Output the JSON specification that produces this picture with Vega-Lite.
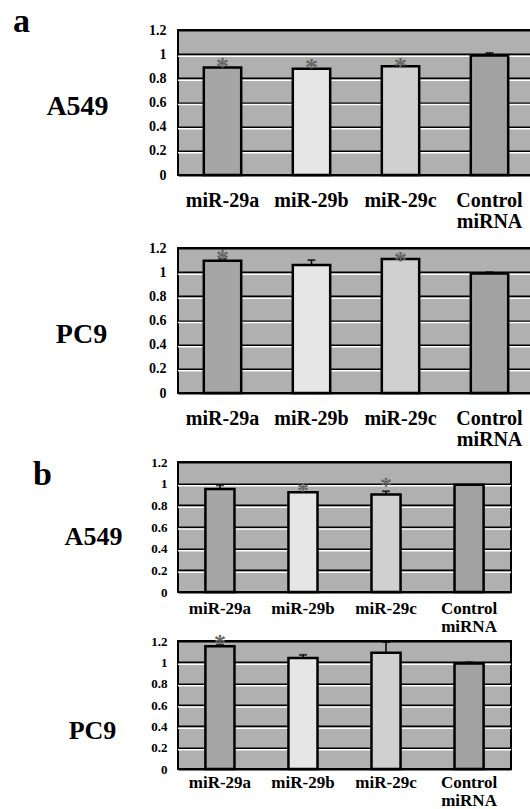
{
  "$schema": "https://vega.github.io/schema/vega-lite/v6.json",
  "background": "white",
  "padding": {"left": 12, "top": 4, "right": 0, "bottom": 0},
  "spacing": -6,
  "config": {
    "view": {"fill": "#b0b0b0", "stroke": "black", "strokeWidth": 2},
    "axis": {"labelFont": "Liberation Serif", "labelFontWeight": "bold", "labelColor": "black", "titleFont": "Liberation Serif", "titleFontWeight": "bold", "titleColor": "black", "ticks": false, "domain": false, "labelOverlap": false},
    "title": {"font": "Liberation Serif", "fontWeight": "bold", "color": "black", "anchor": "start", "frame": "group"}
  },
  "datasets": {
    "bars": [
      {"panel": "aA549", "cond": "miR-29a", "value": 0.89, "err": null, "star": 0.95},
      {"panel": "aA549", "cond": "miR-29b", "value": 0.88, "err": null, "star": 0.94},
      {"panel": "aA549", "cond": "miR-29c", "value": 0.90, "err": null, "star": 0.95},
      {"panel": "aA549", "cond": "Control miRNA", "value": 0.99, "err": 1.01, "star": null},
      {"panel": "aPC9", "cond": "miR-29a", "value": 1.095, "err": 1.11, "star": 1.17},
      {"panel": "aPC9", "cond": "miR-29b", "value": 1.06, "err": 1.10, "star": null},
      {"panel": "aPC9", "cond": "miR-29c", "value": 1.11, "err": 1.12, "star": 1.15},
      {"panel": "aPC9", "cond": "Control miRNA", "value": 0.99, "err": 1.0, "star": null},
      {"panel": "bA549", "cond": "miR-29a", "value": 0.95, "err": 0.985, "star": null},
      {"panel": "bA549", "cond": "miR-29b", "value": 0.92, "err": null, "star": 0.99},
      {"panel": "bA549", "cond": "miR-29c", "value": 0.90, "err": 0.93, "star": 1.03},
      {"panel": "bA549", "cond": "Control miRNA", "value": 0.99, "err": null, "star": null},
      {"panel": "bPC9", "cond": "miR-29a", "value": 1.15, "err": 1.165, "star": 1.24},
      {"panel": "bPC9", "cond": "miR-29b", "value": 1.04, "err": 1.07, "star": null},
      {"panel": "bPC9", "cond": "miR-29c", "value": 1.09, "err": 1.19, "star": null},
      {"panel": "bPC9", "cond": "Control miRNA", "value": 0.99, "err": 1.0, "star": null}
    ],
    "grid": [{"v": 0.2}, {"v": 0.4}, {"v": 0.6}, {"v": 0.8}, {"v": 1.0}]
  },
  "vconcat": [
    {
      "width": 356, "height": 145,
      "title": {"text": "a", "fontSize": 34, "dx": -165, "offset": -16},
      "layer": [
        {"data": {"name": "grid"}, "mark": {"type": "rule", "color": "white", "strokeWidth": 1.5, "yOffset": 2},
         "encoding": {"y": {"field": "v", "type": "quantitative", "scale": {"domain": [0, 1.2], "nice": false},
           "axis": {"values": [0, 0.2, 0.4, 0.6, 0.8, 1, 1.2], "tickCount": 7, "format": "~g", "grid": true, "gridColor": "black", "gridWidth": 2, "labelOverlap": false, "labelFontSize": 14, "labelPadding": 12, "title": "A549", "titleAngle": 0, "titleX": -101, "titleY": 76, "titleAlign": "center", "titleBaseline": "middle", "titleFontSize": 28}}}},
        {"data": {"name": "bars"}, "transform": [{"filter": "datum.panel == 'aA549'"}],
         "mark": {"type": "bar", "stroke": "black", "strokeWidth": 2.5},
         "encoding": {
           "x": {"field": "cond", "type": "nominal", "sort": ["miR-29a", "miR-29b", "miR-29c", "Control miRNA"], "scale": {"paddingInner": 0.58, "paddingOuter": 0.29},
             "axis": {"title": " ", "titleFontSize": 1, "titlePadding": 13, "labelAngle": 0, "labelFontSize": 20, "labelPadding": 25, "labelBaseline": "middle", "labelLineHeight": 21, "labelExpr": "split(datum.label, ' ')"}},
           "y": {"field": "value", "type": "quantitative", "scale": {"domain": [0, 1.2], "nice": false},
             "axis": {"values": [0, 0.2, 0.4, 0.6, 0.8, 1, 1.2], "tickCount": 7, "format": "~g", "grid": true, "gridColor": "black", "gridWidth": 2, "labelOverlap": false, "labelFontSize": 14, "labelPadding": 12, "title": "A549", "titleAngle": 0, "titleX": -101, "titleY": 76, "titleAlign": "center", "titleBaseline": "middle", "titleFontSize": 28}},
           "color": {"field": "cond", "type": "nominal", "scale": {"domain": ["miR-29a", "miR-29b", "miR-29c", "Control miRNA"], "range": ["#a6a6a6", "#e6e6e6", "#d0d0d0", "#a2a2a2"]}, "legend": null}
         }},
        {"data": {"name": "bars"}, "transform": [{"filter": "datum.panel == 'aA549' && datum.err != null"}],
         "mark": {"type": "rule", "color": "black", "strokeWidth": 1.5},
         "encoding": {"x": {"field": "cond", "type": "nominal", "sort": ["miR-29a", "miR-29b", "miR-29c", "Control miRNA"]}, "y": {"field": "value", "type": "quantitative"}, "y2": {"field": "err"}}},
        {"data": {"name": "bars"}, "transform": [{"filter": "datum.panel == 'aA549' && datum.err != null"}],
         "mark": {"type": "tick", "color": "black", "thickness": 2, "size": 8, "orient": "horizontal"},
         "encoding": {"x": {"field": "cond", "type": "nominal", "sort": ["miR-29a", "miR-29b", "miR-29c", "Control miRNA"]}, "y": {"field": "err", "type": "quantitative"}}},
        {"data": {"name": "bars"}, "transform": [{"filter": "datum.panel == 'aA549' && datum.star != null"}],
         "mark": {"type": "text", "text": "*", "font": "Liberation Serif", "fontWeight": "bold", "fontSize": 26, "color": "#666666", "baseline": "middle", "dy": 7},
         "encoding": {"x": {"field": "cond", "type": "nominal", "sort": ["miR-29a", "miR-29b", "miR-29c", "Control miRNA"]}, "y": {"field": "star", "type": "quantitative"}}}
      ]
    },
    {
      "width": 356, "height": 145,
      "layer": [
        {"data": {"name": "grid"}, "mark": {"type": "rule", "color": "white", "strokeWidth": 1.5, "yOffset": 2},
         "encoding": {"y": {"field": "v", "type": "quantitative", "scale": {"domain": [0, 1.2], "nice": false},
           "axis": {"values": [0, 0.2, 0.4, 0.6, 0.8, 1, 1.2], "tickCount": 7, "format": "~g", "grid": true, "gridColor": "black", "gridWidth": 2, "labelOverlap": false, "labelFontSize": 14, "labelPadding": 12, "title": "PC9", "titleAngle": 0, "titleX": -97, "titleY": 86, "titleAlign": "center", "titleBaseline": "middle", "titleFontSize": 28}}}},
        {"data": {"name": "bars"}, "transform": [{"filter": "datum.panel == 'aPC9'"}],
         "mark": {"type": "bar", "stroke": "black", "strokeWidth": 2.5},
         "encoding": {
           "x": {"field": "cond", "type": "nominal", "sort": ["miR-29a", "miR-29b", "miR-29c", "Control miRNA"], "scale": {"paddingInner": 0.58, "paddingOuter": 0.29},
             "axis": {"title": " ", "titleFontSize": 1, "titlePadding": 10, "labelAngle": 0, "labelFontSize": 20, "labelPadding": 25, "labelBaseline": "middle", "labelLineHeight": 21, "labelExpr": "split(datum.label, ' ')"}},
           "y": {"field": "value", "type": "quantitative", "scale": {"domain": [0, 1.2], "nice": false},
             "axis": {"values": [0, 0.2, 0.4, 0.6, 0.8, 1, 1.2], "tickCount": 7, "format": "~g", "grid": true, "gridColor": "black", "gridWidth": 2, "labelOverlap": false, "labelFontSize": 14, "labelPadding": 12, "title": "PC9", "titleAngle": 0, "titleX": -97, "titleY": 86, "titleAlign": "center", "titleBaseline": "middle", "titleFontSize": 28}},
           "color": {"field": "cond", "type": "nominal", "scale": {"domain": ["miR-29a", "miR-29b", "miR-29c", "Control miRNA"], "range": ["#a6a6a6", "#e6e6e6", "#d0d0d0", "#a2a2a2"]}, "legend": null}
         }},
        {"data": {"name": "bars"}, "transform": [{"filter": "datum.panel == 'aPC9' && datum.err != null"}],
         "mark": {"type": "rule", "color": "black", "strokeWidth": 1.5},
         "encoding": {"x": {"field": "cond", "type": "nominal", "sort": ["miR-29a", "miR-29b", "miR-29c", "Control miRNA"]}, "y": {"field": "value", "type": "quantitative"}, "y2": {"field": "err"}}},
        {"data": {"name": "bars"}, "transform": [{"filter": "datum.panel == 'aPC9' && datum.err != null"}],
         "mark": {"type": "tick", "color": "black", "thickness": 2, "size": 8, "orient": "horizontal"},
         "encoding": {"x": {"field": "cond", "type": "nominal", "sort": ["miR-29a", "miR-29b", "miR-29c", "Control miRNA"]}, "y": {"field": "err", "type": "quantitative"}}},
        {"data": {"name": "bars"}, "transform": [{"filter": "datum.panel == 'aPC9' && datum.star != null"}],
         "mark": {"type": "text", "text": "*", "font": "Liberation Serif", "fontWeight": "bold", "fontSize": 26, "color": "#666666", "baseline": "middle", "dy": 7},
         "encoding": {"x": {"field": "cond", "type": "nominal", "sort": ["miR-29a", "miR-29b", "miR-29c", "Control miRNA"]}, "y": {"field": "star", "type": "quantitative"}}}
      ]
    },
    {
      "width": 333, "height": 130,
      "title": {"text": "b", "fontSize": 34, "dx": -145, "offset": -36},
      "layer": [
        {"data": {"name": "grid"}, "mark": {"type": "rule", "color": "white", "strokeWidth": 1.5, "yOffset": 2},
         "encoding": {"y": {"field": "v", "type": "quantitative", "scale": {"domain": [0, 1.2], "nice": false},
           "axis": {"values": [0, 0.2, 0.4, 0.6, 0.8, 1, 1.2], "tickCount": 7, "format": "~g", "grid": true, "gridColor": "black", "gridWidth": 2, "labelOverlap": false, "labelFontSize": 13, "labelPadding": 11, "title": "A549", "titleAngle": 0, "titleX": -85, "titleY": 74, "titleAlign": "center", "titleBaseline": "middle", "titleFontSize": 26}}}},
        {"data": {"name": "bars"}, "transform": [{"filter": "datum.panel == 'bA549'"}],
         "mark": {"type": "bar", "stroke": "black", "strokeWidth": 2.5},
         "encoding": {
           "x": {"field": "cond", "type": "nominal", "sort": ["miR-29a", "miR-29b", "miR-29c", "Control miRNA"], "scale": {"paddingInner": 0.65, "paddingOuter": 0.33},
             "axis": {"title": null, "labelAngle": 0, "labelFontSize": 17, "labelPadding": 16, "labelBaseline": "middle", "labelLineHeight": 18, "labelExpr": "split(datum.label, ' ')"}},
           "y": {"field": "value", "type": "quantitative", "scale": {"domain": [0, 1.2], "nice": false},
             "axis": {"values": [0, 0.2, 0.4, 0.6, 0.8, 1, 1.2], "tickCount": 7, "format": "~g", "grid": true, "gridColor": "black", "gridWidth": 2, "labelOverlap": false, "labelFontSize": 13, "labelPadding": 11, "title": "A549", "titleAngle": 0, "titleX": -85, "titleY": 74, "titleAlign": "center", "titleBaseline": "middle", "titleFontSize": 26}},
           "color": {"field": "cond", "type": "nominal", "scale": {"domain": ["miR-29a", "miR-29b", "miR-29c", "Control miRNA"], "range": ["#a6a6a6", "#e6e6e6", "#d0d0d0", "#a2a2a2"]}, "legend": null}
         }},
        {"data": {"name": "bars"}, "transform": [{"filter": "datum.panel == 'bA549' && datum.err != null"}],
         "mark": {"type": "rule", "color": "black", "strokeWidth": 1.5},
         "encoding": {"x": {"field": "cond", "type": "nominal", "sort": ["miR-29a", "miR-29b", "miR-29c", "Control miRNA"]}, "y": {"field": "value", "type": "quantitative"}, "y2": {"field": "err"}}},
        {"data": {"name": "bars"}, "transform": [{"filter": "datum.panel == 'bA549' && datum.err != null"}],
         "mark": {"type": "tick", "color": "black", "thickness": 2, "size": 8, "orient": "horizontal"},
         "encoding": {"x": {"field": "cond", "type": "nominal", "sort": ["miR-29a", "miR-29b", "miR-29c", "Control miRNA"]}, "y": {"field": "err", "type": "quantitative"}}},
        {"data": {"name": "bars"}, "transform": [{"filter": "datum.panel == 'bA549' && datum.star != null"}],
         "mark": {"type": "text", "text": "*", "font": "Liberation Serif", "fontWeight": "bold", "fontSize": 24, "color": "#666666", "baseline": "middle", "dy": 6},
         "encoding": {"x": {"field": "cond", "type": "nominal", "sort": ["miR-29a", "miR-29b", "miR-29c", "Control miRNA"]}, "y": {"field": "star", "type": "quantitative"}}}
      ]
    },
    {
      "width": 333, "height": 128,
      "layer": [
        {"data": {"name": "grid"}, "mark": {"type": "rule", "color": "white", "strokeWidth": 1.5, "yOffset": 2},
         "encoding": {"y": {"field": "v", "type": "quantitative", "scale": {"domain": [0, 1.2], "nice": false},
           "axis": {"values": [0, 0.2, 0.4, 0.6, 0.8, 1, 1.2], "tickCount": 7, "format": "~g", "grid": true, "gridColor": "black", "gridWidth": 2, "labelOverlap": false, "labelFontSize": 13, "labelPadding": 11, "title": "PC9", "titleAngle": 0, "titleX": -86, "titleY": 89, "titleAlign": "center", "titleBaseline": "middle", "titleFontSize": 26}}}},
        {"data": {"name": "bars"}, "transform": [{"filter": "datum.panel == 'bPC9'"}],
         "mark": {"type": "bar", "stroke": "black", "strokeWidth": 2.5},
         "encoding": {
           "x": {"field": "cond", "type": "nominal", "sort": ["miR-29a", "miR-29b", "miR-29c", "Control miRNA"], "scale": {"paddingInner": 0.65, "paddingOuter": 0.33},
             "axis": {"title": null, "labelAngle": 0, "labelFontSize": 17, "labelPadding": 13, "labelBaseline": "middle", "labelLineHeight": 18, "labelExpr": "split(datum.label, ' ')"}},
           "y": {"field": "value", "type": "quantitative", "scale": {"domain": [0, 1.2], "nice": false},
             "axis": {"values": [0, 0.2, 0.4, 0.6, 0.8, 1, 1.2], "tickCount": 7, "format": "~g", "grid": true, "gridColor": "black", "gridWidth": 2, "labelOverlap": false, "labelFontSize": 13, "labelPadding": 11, "title": "PC9", "titleAngle": 0, "titleX": -86, "titleY": 89, "titleAlign": "center", "titleBaseline": "middle", "titleFontSize": 26}},
           "color": {"field": "cond", "type": "nominal", "scale": {"domain": ["miR-29a", "miR-29b", "miR-29c", "Control miRNA"], "range": ["#a6a6a6", "#e6e6e6", "#d0d0d0", "#a2a2a2"]}, "legend": null}
         }},
        {"data": {"name": "bars"}, "transform": [{"filter": "datum.panel == 'bPC9' && datum.err != null"}],
         "mark": {"type": "rule", "color": "black", "strokeWidth": 1.5},
         "encoding": {"x": {"field": "cond", "type": "nominal", "sort": ["miR-29a", "miR-29b", "miR-29c", "Control miRNA"]}, "y": {"field": "value", "type": "quantitative"}, "y2": {"field": "err"}}},
        {"data": {"name": "bars"}, "transform": [{"filter": "datum.panel == 'bPC9' && datum.err != null"}],
         "mark": {"type": "tick", "color": "black", "thickness": 2, "size": 8, "orient": "horizontal"},
         "encoding": {"x": {"field": "cond", "type": "nominal", "sort": ["miR-29a", "miR-29b", "miR-29c", "Control miRNA"]}, "y": {"field": "err", "type": "quantitative"}}},
        {"data": {"name": "bars"}, "transform": [{"filter": "datum.panel == 'bPC9' && datum.star != null"}],
         "mark": {"type": "text", "text": "*", "font": "Liberation Serif", "fontWeight": "bold", "fontSize": 24, "color": "#666666", "baseline": "middle", "dy": 6},
         "encoding": {"x": {"field": "cond", "type": "nominal", "sort": ["miR-29a", "miR-29b", "miR-29c", "Control miRNA"]}, "y": {"field": "star", "type": "quantitative"}}}
      ]
    }
  ]
}
